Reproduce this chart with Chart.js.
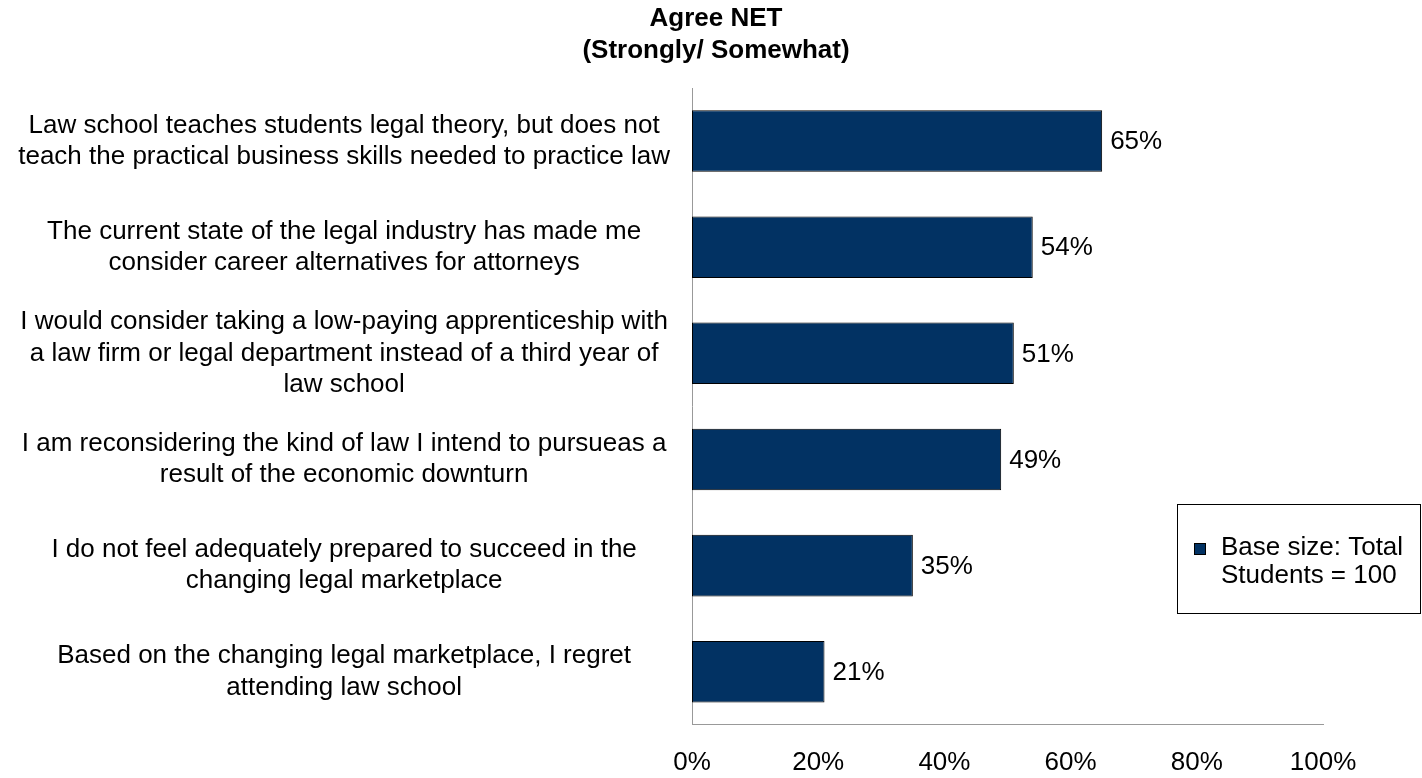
<!DOCTYPE html>
<html>
<head>
<meta charset="utf-8">
<script src="https://cdn.jsdelivr.net/npm/chart.js@4/dist/chart.umd.min.js"></script>
<style>
  html, body { margin: 0; padding: 0; background: #fff; }
</style>
</head>
<body>
<canvas id="chart" width="1422" height="778"></canvas>
<script>
const categories = [
  ['Law school teaches students legal theory, but does not', 'teach the practical business skills needed to practice law'],
  ['The current state of the legal industry has made me', 'consider career alternatives for attorneys'],
  ['I would consider taking a low-paying apprenticeship with', 'a law firm or legal department instead of a third year of', 'law school'],
  ['I am reconsidering the kind of law I intend to pursueas a', 'result of the economic downturn'],
  ['I do not feel adequately prepared to succeed in the', 'changing legal marketplace'],
  ['Based on the changing legal marketplace, I regret', 'attending law school']
];
const agreeNet = [65, 54, 51, 49, 35, 21];
const xTicks = [0, 20, 40, 60, 80, 100];
const seriesName = 'Base size: Total Students = 100';
const titleLines = ['Agree NET', '(Strongly/ Somewhat)'];

const FONT = '"Liberation Sans", Arial, sans-serif';
Chart.defaults.font.family = FONT;
Chart.defaults.color = '#000';

// title drawn by hand: it sits centred on the whole picture, not on the plot
const topTitle = {
  id: 'topTitle',
  afterDraw(chart) {
    const ctx = chart.ctx;
    ctx.save();
    ctx.font = 'bold 26px ' + FONT;
    ctx.fillStyle = '#000';
    ctx.textAlign = 'center';
    ctx.textBaseline = 'middle';
    titleLines.forEach((t, i) => ctx.fillText(t, 716, 19 + i * 32));
    ctx.restore();
  }
};

// draws "65%" etc. just past the end of each bar
const valueLabels = {
  id: 'valueLabels',
  afterDatasetsDraw(chart) {
    const ctx = chart.ctx;
    const meta = chart.getDatasetMeta(0);
    ctx.save();
    ctx.font = '26px ' + FONT;
    ctx.fillStyle = '#000';
    ctx.textBaseline = 'middle';
    ctx.textAlign = 'left';
    meta.data.forEach((bar, i) => {
      ctx.fillText(agreeNet[i] + '%', bar.x + 8, bar.y + 1);
    });
    ctx.restore();
  }
};

// boxed legend in the lower right, text wrapped on two lines
const boxLegend = {
  id: 'boxLegend',
  afterDraw(chart) {
    const ctx = chart.ctx;
    const ds = chart.data.datasets[0];
    ctx.save();
    ctx.font = '26px ' + FONT;
    // wrap label
    const words = ds.label.split(' ');
    const lines = [];
    let cur = '';
    words.forEach(w => {
      const test = cur ? cur + ' ' + w : w;
      if (ctx.measureText(test).width > 190 && cur) { lines.push(cur); cur = w; }
      else cur = test;
    });
    if (cur) lines.push(cur);

    const bx = 1177, by = 504, bw = 243, bh = 109;
    ctx.strokeStyle = '#000';
    ctx.lineWidth = 1;
    ctx.strokeRect(bx + 0.5, by + 0.5, bw, bh);

    ctx.fillStyle = ds.backgroundColor;
    ctx.fillRect(1194, 543, 12, 12);
    ctx.strokeStyle = '#000';
    ctx.strokeRect(1194.5, 543.5, 11, 11);

    ctx.fillStyle = '#000';
    ctx.textBaseline = 'alphabetic';
    lines.forEach((ln, i) => ctx.fillText(ln, 1221, 555 + i * 28));
    ctx.restore();
  }
};

new Chart(document.getElementById('chart'), {
  type: 'bar',
  data: {
    labels: categories,
    datasets: [{
      label: seriesName,
      data: agreeNet,
      backgroundColor: '#023263',
      borderColor: '#000',
      borderWidth: 1,
      borderSkipped: false,
      barPercentage: 0.58,
      categoryPercentage: 1.0
    }]
  },
  options: {
    indexAxis: 'y',
    responsive: false,
    animation: false,
    devicePixelRatio: 1,
    layout: { padding: { left: 0, right: 99, top: 88, bottom: 0 } },
    plugins: {
      legend: { display: false },
      tooltip: { enabled: false },
      title: { display: false }
    },
    scales: {
      x: {
        min: 0,
        max: 100,
        afterBuildTicks: axis => { axis.ticks = xTicks.map(v => ({ value: v })); },
        afterFit: axis => { axis.height = 52; },
        grid: { display: false, drawTicks: false },
        border: { display: true, color: '#999', width: 1 },
        ticks: {
          padding: 22,
          font: { size: 26 },
          color: '#000',
          callback: v => v + '%'
        }
      },
      y: {
        afterFit: axis => { axis.width = 692; },
        grid: { display: false, drawTicks: false },
        border: { display: true, color: '#999', width: 1 },
        ticks: {
          crossAlign: 'center',
          padding: 22,
          font: { size: 26, lineHeight: 1.2 },
          color: '#000'
        }
      }
    }
  },
  plugins: [topTitle, valueLabels, boxLegend]
});
</script>
</body>
</html>
